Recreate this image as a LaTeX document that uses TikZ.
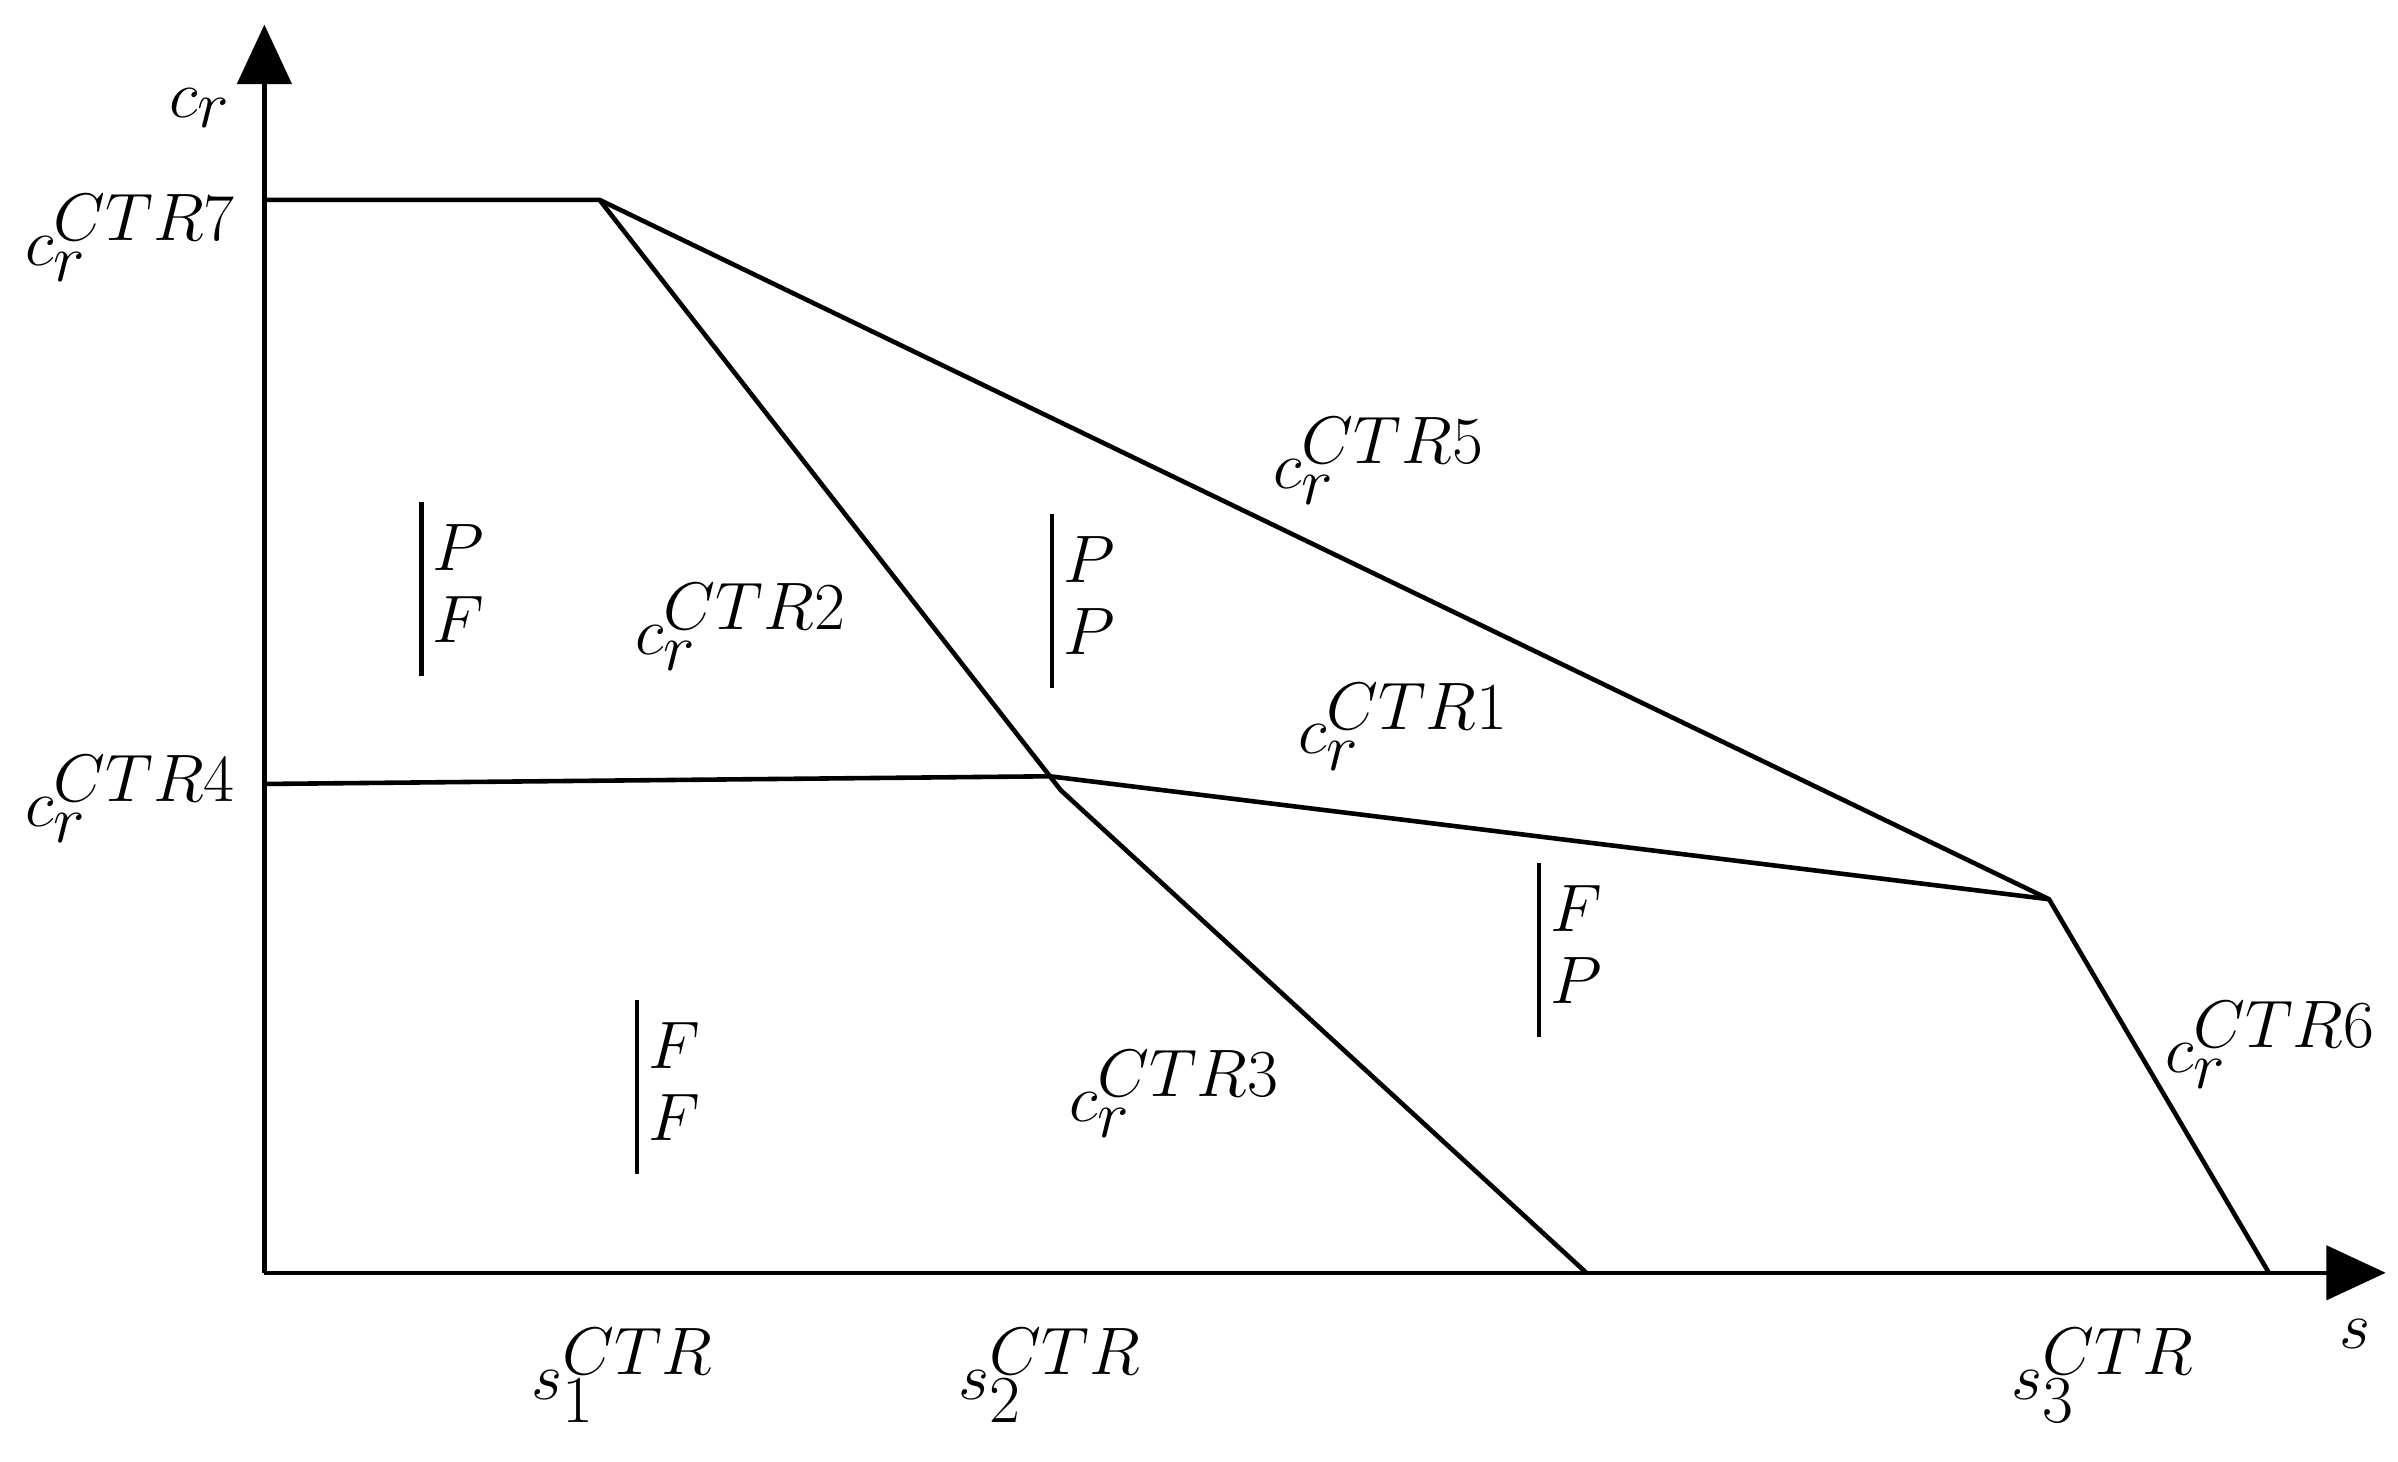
\documentclass[tikz,border=0pt]{standalone}
\usetikzlibrary{arrows.meta}
\begin{document}
\begin{tikzpicture}[x=0.02cm,y=-0.02cm,
  ln/.style={line width=1.7pt},
  lab/.style={font=\fontsize{33}{38}\selectfont, inner sep=0pt}]
\useasboundingbox (0,0) rectangle (1560,951);
\def\stk#1#2{\renewcommand\arraystretch{0.7}\setlength\arraycolsep{0pt}\vrule width 1.7pt height 1.2em depth 0.75em\hspace{0.1em}$\begin{array}[c]{l}#1\\#2\end{array}$}
\coordinate (O) at (172,828);
\coordinate (Ytip) at (172,16);
\coordinate (Xtip) at (1552,828);
\coordinate (A) at (172,130);
\coordinate (B) at (390,130);
\coordinate (C) at (683,505);
\coordinate (C2) at (690,514);
\coordinate (D) at (1333,585);
\coordinate (E) at (1476,828);
\coordinate (F) at (1032,828);
\coordinate (G) at (172,510);
\draw[ln,-{Triangle[length=22pt,width=20pt]}] (O) -- (Ytip);
\draw[ln,-{Triangle[length=22pt,width=20pt]}] (O) -- (Xtip);
\draw[ln] (A) -- (B) -- (D) -- (E);
\draw[ln] (B) -- (C) -- (C2) -- (F);
\draw[ln] (G) -- (C) -- (D);
\node[lab] (cr) at (130,70) {$c_r$};
\node[lab] (l7) at (85,155) {$c_r^{CTR7}$};
\node[lab] (l4) at (85,520) {$c_r^{CTR4}$};
\node[lab] (l5) at (897,300) {$c_r^{CTR5}$};
\node[lab] (l2) at (482,408) {$c_r^{CTR2}$};
\node[lab] (l1) at (913,473) {$c_r^{CTR1}$};
\node[lab] (l6) at (1477,680) {$c_r^{CTR6}$};
\node[lab] (l3) at (764,712) {$c_r^{CTR3}$};
\node[lab] (s1) at (405,895) {$s_1^{CTR}$};
\node[lab] (s2) at (683,895) {$s_2^{CTR}$};
\node[lab] (s3) at (1368,895) {$s_3^{CTR}$};
\node[lab] (s) at (1532,868) {$s$};
\node[lab] (r1) at (294,383) {\stk{P}{F}};
\node[lab] (r2) at (704,391) {\stk{P}{P}};
\node[lab] (r3) at (1021,618) {\stk{F}{P}};
\node[lab] (r4) at (434,707) {\stk{F}{F}};
\end{tikzpicture}
\end{document}
